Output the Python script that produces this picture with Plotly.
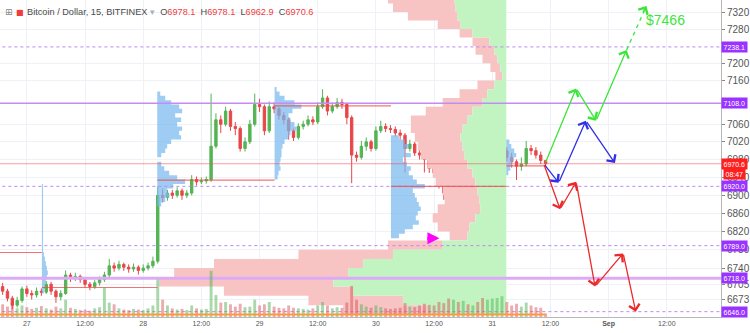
import numpy as np
import plotly.graph_objects as go

# ---------------- data (hours counted from 27 Aug 00:00) ----------------
hours = list(range(-5, 108))
first_open = 6700
close = [6690, 6675, 6660, 6670, 6695, 6685, 6682, 6690, 6688, 6705,
         6690, 6678, 6685, 6725, 6718, 6722, 6715, 6705, 6700, 6708,
         6715, 6725, 6745, 6740, 6748, 6742, 6738, 6742, 6735, 6740,
         6745, 6755, 6900, 6895, 6905, 6900, 6910, 6900, 6905, 6935,
         6930, 6932, 6935, 7010, 7070, 7060, 7090, 7055, 7050, 7005,
         7020, 7060, 7105, 7100, 7045, 7100, 7095, 7080, 7070, 7045,
         7030, 7055, 7060, 7070, 7065, 7100, 7120, 7090, 7100, 7110,
         7105, 7075, 6990, 6985, 7010, 7020, 7005, 7045, 7055, 7050,
         7048, 7040, 7035, 7005, 7015, 6995, 6990, 6980, 6960, 6950,
         6925, 6905, 6860, 6880, 6855, 6880, 6865, 6870, 6850, 6825,
         6860, 6930, 6945, 7000, 6985, 6975, 6965, 6970, 7005, 7000,
         6990, 6978, 6970.6]
high = [6708, 6695, 6680, 6678, 6700, 6702, 6692, 6698, 6696, 6712,
        6710, 6694, 6692, 6735, 6730, 6730, 6726, 6720, 6710, 6714,
        6722, 6732, 6760, 6752, 6756, 6752, 6748, 6750, 6746, 6748,
        6752, 6765, 6920, 6915, 6912, 6912, 6918, 6915, 6912, 6945,
        6942, 6940, 6942, 7130, 7085, 7080, 7100, 7095, 7065, 7055,
        7030, 7070, 7130, 7118, 7105, 7112, 7110, 7100, 7088, 7075,
        7050, 7062, 7068, 7080, 7078, 7110, 7140, 7125, 7110, 7120,
        7118, 7110, 7080, 6998, 7022, 7030, 7025, 7055, 7068, 7062,
        7058, 7055, 7048, 7040, 7025, 7020, 7002, 6995, 6985, 6968,
        6955, 6930, 6910, 6892, 6888, 6893, 6888, 6880, 6875, 6856,
        6870, 6940, 6962, 7022, 7008, 6995, 6980, 6985, 7022, 7013,
        7008, 6998, 6978.1]
low = [6682, 6668, 6651, 6655, 6665, 6678, 6672, 6676, 6680, 6684,
       6682, 6665, 6670, 6682, 6710, 6712, 6708, 6698, 6692, 6695,
       6702, 6710, 6720, 6732, 6735, 6734, 6730, 6732, 6726, 6730,
       6735, 6740, 6750, 6884, 6888, 6892, 6895, 6890, 6894, 6900,
       6922, 6925, 6926, 6930, 7005, 7040, 7055, 7045, 7035, 6998,
       6998, 7015, 7055, 7088, 7035, 7040, 7085, 7070, 7060, 7025,
       7022, 7025, 7048, 7055, 7058, 7060, 7095, 7080, 7085, 7095,
       7095, 7060, 6927, 6975, 6980, 7000, 6998, 7000, 7040, 7042,
       7040, 7032, 7025, 6951, 6998, 6988, 6980, 6951, 6950, 6940,
       6915, 6890, 6830, 6852, 6845, 6850, 6855, 6858, 6835, 6808,
       6818, 6855, 6925, 6940, 6975, 6962, 6934, 6955, 6965, 6990,
       6982, 6970, 6962.9]
volume = [220, 180, 260, 150, 200, 170, 140, 160, 190, 150,
          130, 180, 150, 300, 160, 140, 120, 130, 110, 150,
          170, 520, 250, 220, 150, 130, 120, 140, 130, 120,
          150, 200, 650, 300, 200, 150, 130, 140, 120, 200,
          150, 130, 140, 800, 380, 250, 260, 220, 180, 230,
          170, 180, 300, 200, 220, 260, 180, 160, 150, 200,
          160, 150, 140, 130, 150, 200, 260, 200, 150, 170,
          160, 250, 540, 300, 220, 180, 160, 200, 170, 150,
          140, 150, 160, 240, 180, 170, 200, 230, 210, 200,
          260, 240, 320, 300, 260, 280, 220, 200, 260, 330,
          300, 320, 330, 360, 260, 200, 230, 180, 250, 200,
          170, 160, 60]
ohlc_header = {"O": 6978.1, "H": 6978.1, "L": 6962.9, "C": 6970.6}

# fixed-range volume profile (rows of 20 USD)
profile_prices = [6650, 6670, 6690, 6710, 6730, 6750, 6770, 6790, 6810, 6830,
                  6850, 6870, 6890, 6910, 6930, 6950, 6970, 6990, 7010, 7030,
                  7050, 7070, 7090, 7110, 7130, 7150, 7170, 7190, 7210, 7230,
                  7250, 7270, 7290, 7310, 7330, 7350]
profile_buy = [79, 104, 154, 174, 159, 144, 114, 64, 39, 37,
               31, 26, 27, 29, 31, 34, 39, 42, 44, 46,
               44, 39, 34, 24, 19, 12, 4, 6, 9, 12,
               17, 34, 46, 49, 51, 52]
profile_sell = [85, 95, 130, 175, 175, 150, 95, 55, 18, 32,
                43, 43, 35, 35, 40, 40, 40, 44, 45, 46,
                52, 57, 47, 40, 28, 17, 7, 10, 15, 19,
                17, 13, 23, 50, 63, 67]

# session volume profiles (rows of 10 USD)
s1_prices = [6690, 6700, 6710, 6720, 6730, 6740, 6750, 6760, 6770, 6780,
             6790, 6800, 6810, 6820, 6830, 6840, 6850, 6860, 6870, 6880,
             6890, 6900, 6910, 6920]
s1_vol = [2, 3, 4, 5, 6, 5, 4, 3, 2, 1.2, 1.2, 1.2, 1.2, 1.2, 1.2, 1.2,
          1.2, 1.2, 1.2, 1.2, 1.2, 1.2, 1.2, 1.2]
s2_prices = [6880, 6890, 6900, 6910, 6920, 6930, 6940, 6950, 6960, 6970,
             6980, 6990, 7000, 7010, 7020, 7030, 7040, 7050, 7060, 7070,
             7080, 7090, 7100, 7110, 7120, 7130]
s2_vol = [4, 8, 12, 10, 16, 28, 20, 12, 7, 4, 0, 4, 8, 10, 14, 24,
          22, 25, 20, 24, 18, 25, 22, 14, 8, 3]
s3_prices = [6940, 6950, 6960, 6970, 6980, 6990, 7000, 7010, 7020, 7030,
             7040, 7050, 7060, 7070, 7080, 7090, 7100, 7110, 7120, 7130, 7140]
s3_vol = [3, 4, 6, 5, 6, 7, 7, 8, 10, 14, 16, 22, 20, 16, 14, 18, 27,
          20, 10, 5, 2]
s4_prices = [6810, 6820, 6830, 6840, 6850, 6860, 6870, 6880, 6890, 6900,
             6910, 6920, 6930, 6940, 6950, 6960, 6970, 6980, 6990, 7000,
             7010, 7020, 7030]
s4_vol = [8, 14, 22, 28, 25, 27, 30, 28, 26, 24, 22, 34, 26, 22, 18,
          20, 16, 12, 20, 14, 18, 14, 8]
s5_prices = [6950, 6960, 6970, 6980, 6990, 7000, 7010, 7020]
s5_vol = [2, 4, 6, 7, 10, 8, 5, 3]
session_start = [3.1, 26.9, 51.1, 75.1, 98.9]

# point of control lines per session
poc_start = [-6, 3.1, 26.9, 51.1, 75.1, 98.9]
poc_end = [3.1, 26.9, 51.1, 75.1, 98.9, 107]
poc_price = [6774, 6698, 6934, 7102, 6920, 6966]

# horizontal levels
level_price = [7238.1, 7108.0, 6920.0, 6789.0, 6718.0, 6646.0]
level_label = ["7238.1", "7108.0", "6920.0", "6789.0", "6718.0", "6646.0"]
last_price = 6970.6
countdown = "08:47"

# projected scenarios
green_h = [106.9, 113.3, 117.4, 123.7]
green_p = [6971, 7142, 7068, 7231]
green_target_h = 127.8
green_target_p = 7334
blue_h = [106.6, 109.7, 115.3, 121.3]
blue_p = [6971, 6928, 7068, 6972]
red_h = [106.6, 110.0, 113.3, 117.2, 123.0, 125.6]
red_p = [6971, 6869, 6930, 6700, 6772, 6646]
target_label = "$7466"

x_tickvals = [0, 12, 24, 36, 48, 60, 72, 84, 96, 108, 120, 132]
x_ticktext = ["27", "12:00", "28", "12:00", "29", "12:00", "30", "12:00",
              "31", "12:00", "<b>Sep</b>", "12:00"]
y_tickvals = [7320, 7280, 7200, 7160, 7060, 7020, 6980, 6940, 6900, 6860,
              6820, 6780, 6740, 6705, 6673]

# ---------------- styling constants ----------------
PX_PER_HOUR = 4.875
PROFILE_ANCHOR = 98.9
FONT = "Liberation Sans"
GREEN_C = "#53b453"
RED_C = "#e8474a"
PURPLE = "#9933ff"
LEVEL_C = "#b98af5"

opens = [first_open] + close[:-1]
fig = go.Figure()


def big_profile_polys(prices, buy, sell, anchor, step):
    gx, gy = [], []
    for p, b in zip(prices, buy):
        w = b / PX_PER_HOUR
        gx += [anchor - w, anchor - w]
        gy += [p - step / 2, p + step / 2]
    gx = [anchor] + gx + [anchor]
    gy = [prices[0] - step / 2] + gy + [prices[-1] + step / 2]
    left_x, left_y, right_x, right_y = [], [], [], []
    for p, b, s in zip(prices, buy, sell):
        wl = (b + s) / PX_PER_HOUR
        wr = b / PX_PER_HOUR
        left_x += [anchor - wl, anchor - wl]
        left_y += [p - step / 2, p + step / 2]
        right_x += [anchor - wr, anchor - wr]
        right_y += [p - step / 2, p + step / 2]
    px = left_x + right_x[::-1]
    py = left_y + right_y[::-1]
    return gx, gy, px, py


def session_poly(prices, vol, start, step):
    xs, ys = [], []
    for p, v in zip(prices, vol):
        w = v / PX_PER_HOUR
        xs += [start + w, start + w]
        ys += [p - step / 2, p + step / 2]
    xs = [start] + xs + [start]
    ys = [prices[0] - step / 2] + ys + [prices[-1] + step / 2]
    return xs, ys


gx, gy, pxs, pys = big_profile_polys(profile_prices, profile_buy, profile_sell,
                                     PROFILE_ANCHOR, 20)
fig.add_trace(go.Scatter(x=pxs, y=pys, fill="toself", fillcolor="#f8c3c3",
                         line=dict(width=0), mode="lines", hoverinfo="skip"))
fig.add_trace(go.Scatter(x=gx, y=gy, fill="toself", fillcolor="#c2f4c2",
                         line=dict(width=0), mode="lines", hoverinfo="skip"))

for sp, sv, st in zip([s1_prices, s2_prices, s3_prices, s4_prices, s5_prices],
                      [s1_vol, s2_vol, s3_vol, s4_vol, s5_vol], session_start):
    xs, ys = session_poly(sp, sv, st, 10)
    fig.add_trace(go.Scatter(x=xs, y=ys, fill="toself",
                             fillcolor="rgba(120,185,238,0.72)",
                             line=dict(width=0), mode="lines",
                             hoverinfo="skip"))

# horizontal level lines
xr = [-10, 150]
for lp in level_price:
    if lp == 6718.0:
        ln = dict(color="#dcaaf7", width=3)
    elif lp == 7108.0:
        ln = dict(color="#c48cf3", width=1.4)
    else:
        ln = dict(color=LEVEL_C, width=1, dash="3px,3px")
    fig.add_trace(go.Scatter(x=xr, y=[lp, lp], mode="lines", hoverinfo="skip",
                             line=ln))

# last price line
fig.add_trace(go.Scatter(x=xr, y=[last_price, last_price], mode="lines",
                         line=dict(color="rgba(240,80,80,0.55)", width=1),
                         hoverinfo="skip"))

# POC lines
for a, b, p in zip(poc_start, poc_end, poc_price):
    fig.add_trace(go.Scatter(x=[a, b], y=[p, p], mode="lines",
                             line=dict(color="rgba(240,70,70,0.75)", width=1.2),
                             hoverinfo="skip"))

# volume bars
vcol = ["rgba(83,180,83,0.5)" if c >= o else "rgba(215,70,70,0.45)"
        for o, c in zip(opens, close)]
fig.add_trace(go.Bar(x=hours, y=volume, marker=dict(color=vcol, line=dict(width=0)),
                     width=0.6, yaxis="y2", hoverinfo="skip"))

# orange volume average line
fig.add_trace(go.Scatter(x=[hours[0] - 1, hours[-1]], y=[45, 45], mode="lines",
                         line=dict(color="#ff9a3c", width=2), yaxis="y2",
                         hoverinfo="skip"))

# candles
fig.add_trace(go.Candlestick(
    x=hours, open=opens, high=high, low=low, close=close,
    increasing=dict(line=dict(color=GREEN_C, width=1), fillcolor=GREEN_C),
    decreasing=dict(line=dict(color=RED_C, width=1), fillcolor=RED_C),
    whiskerwidth=0, hoverinfo="skip"))

# dashed green extension
fig.add_trace(go.Scatter(x=[green_h[-1], green_target_h], y=[green_p[-1], green_target_p],
                         mode="lines", line=dict(color="#3be63b", width=1.3, dash="4px,4px"),
                         hoverinfo="skip"))

annotations = []


def arrow(h0, p0, h1, p1, color, width=1.3, head=4, size=1.6):
    annotations.append(dict(x=h1, y=np.log10(p1), ax=h0, ay=np.log10(p0),
                            xref="x", yref="y", axref="x", ayref="y",
                            showarrow=True, arrowhead=head, arrowsize=size,
                            arrowwidth=width, arrowcolor=color, text=""))


for hs, ps, col in [(green_h, green_p, "#3be63b"), (blue_h, blue_p, "#3030e8"),
                    (red_h, red_p, "#ec2a2a")]:
    for i in range(len(hs) - 1):
        arrow(hs[i], ps[i], hs[i + 1], ps[i + 1], col)
# head of dashed target arrow
arrow(green_target_h - 0.9, green_target_p - 18, green_target_h, green_target_p,
      "#3be63b")
annotations.append(dict(x=131.7, y=np.log10(7301), xref="x", yref="y",
                        text=target_label, showarrow=False,
                        font=dict(family=FONT, size=14, color="#3be63b")))
# magenta arrow
arrow(82.3, 6805, 85.1, 6805, "#ff00ff", width=3.2, head=2, size=0.75)

# level badges
for lp, lab in zip(level_price, level_label):
    annotations.append(dict(x=1, xref="paper", xanchor="left", y=np.log10(lp),
                            yref="y", text=lab, showarrow=False, bgcolor=PURPLE,
                            borderpad=1.5,
                            font=dict(family=FONT, size=7, color="white")))
annotations.append(dict(x=1, xref="paper", xanchor="left", y=np.log10(last_price),
                        yref="y", text=f"{last_price:.1f}", showarrow=False,
                        bgcolor="#ff1f1f", borderpad=1.5,
                        font=dict(family=FONT, size=7, color="white")))
annotations.append(dict(x=1, xref="paper", xanchor="left", xshift=2,
                        y=np.log10(last_price), yref="y", yshift=-10,
                        text=countdown, showarrow=False, bgcolor="#ff1f1f",
                        borderpad=1.5,
                        font=dict(family=FONT, size=7, color="white")))

# header
vals = "  ".join(f"{k}<span style='color:#f23b3b'>{v}</span>"
                 for k, v in ohlc_header.items())
header = ("Bitcoin / Dollar, 15, BITFINEX <span style='color:#b0b0b0'>▾</span>  "
          + vals)
annotations.append(dict(x=0, xref="paper", xanchor="left", xshift=25,
                        y=1, yref="paper", yanchor="middle", yshift=-12,
                        text=header, showarrow=False,
                        font=dict(family=FONT, size=9.2, color="#4a4a4a")))
annotations.append(dict(x=0, xref="paper", xanchor="left", xshift=3,
                        y=1, yref="paper", yanchor="middle", yshift=-12,
                        text="⊞", showarrow=False,
                        font=dict(family="DejaVu Sans", size=9, color="#888888")))
annotations.append(dict(x=0, xref="paper", xanchor="left", xshift=14,
                        y=1, yref="paper", yanchor="middle", yshift=-12,
                        text="■", showarrow=False,
                        font=dict(family="DejaVu Sans", size=8, color="#f23b3b")))

fig.update_layout(
    width=750, height=333,
    margin=dict(l=0, r=25, t=0, b=16),
    paper_bgcolor="white", plot_bgcolor="white",
    showlegend=False, barmode="overlay",
    annotations=annotations,
    xaxis=dict(range=[-5.54, 143.18], tickvals=x_tickvals, ticktext=x_ticktext,
               showgrid=True, gridcolor="#eef1f6", zeroline=False,
               showline=True, linecolor="#b8b8b8", ticks="",
               tickfont=dict(family=FONT, size=7, color="#555555"),
               rangeslider=dict(visible=False), fixedrange=True),
    yaxis=dict(type="log", range=[np.log10(6634.6), np.log10(7348.4)],
               side="right", tickvals=y_tickvals,
               ticktext=[str(v) for v in y_tickvals],
               showgrid=True, gridcolor="#eef1f6", zeroline=False,
               showline=True, linecolor="#b8b8b8", ticks="outside", ticklen=3,
               tickcolor="#888888",
               tickfont=dict(family=FONT, size=10, color="#555555")),
    yaxis2=dict(overlaying="y", range=[0, 5500], visible=False),
)

fig.write_html("out.html")
